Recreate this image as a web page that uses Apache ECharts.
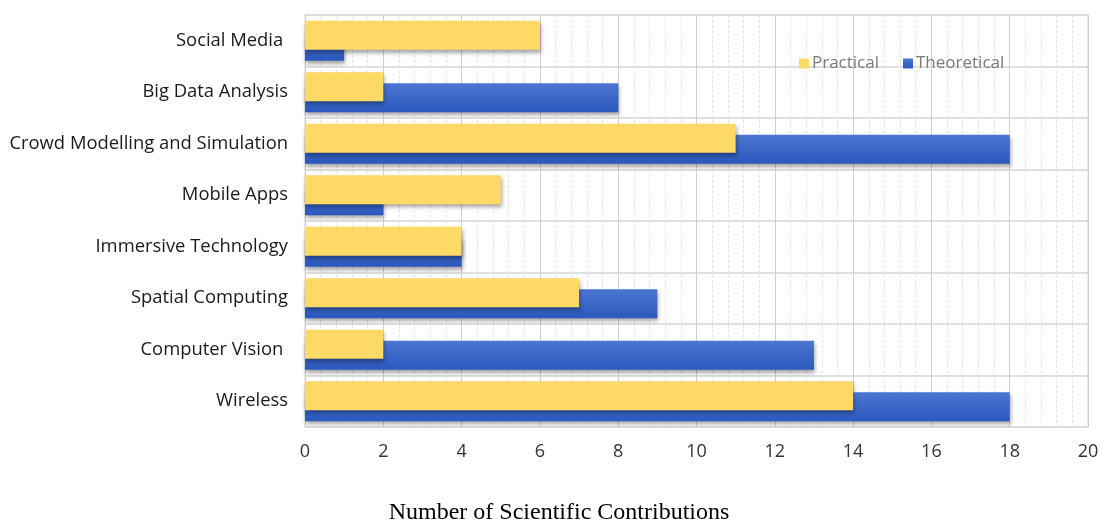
<!DOCTYPE html>
<html>
<head>
<meta charset="utf-8">
<script src="https://cdn.jsdelivr.net/npm/echarts@6/dist/echarts.min.js"></script>
<style>
  html, body { margin: 0; padding: 0; background: #fff; }
  #chart { width: 1104px; height: 521px; }
</style>
</head>
<body>
<div id="chart"></div>
<script>
// Research areas, listed top to bottom
const categories = [
  'Social Media ',
  'Big Data Analysis',
  'Crowd Modelling and Simulation',
  'Mobile Apps',
  'Immersive Technology',
  'Spatial Computing',
  'Computer Vision ',
  'Wireless'
];
const practical = [6, 2, 11, 5, 4, 7, 2, 14];
const theoretical = [1, 8, 18, 2, 4, 9, 13, 18];
const xTicks = [0, 2, 4, 6, 8, 10, 12, 14, 16, 18, 20];

const barShadow = {
  shadowColor: 'rgba(0,0,0,0.35)',
  shadowBlur: 4,
  shadowOffsetX: 1,
  shadowOffsetY: 3
};

const chart = echarts.init(document.getElementById('chart'));
chart.setOption({
  animation: false,
  backgroundColor: '#fff',
  title: {
    text: 'Number of Scientific Contributions',
    left: 554,
    top: 496,
    textAlign: 'center',
    textStyle: {
      fontFamily: 'Liberation Serif',
      fontWeight: 'normal',
      fontSize: 24,
      color: '#000'
    }
  },
  legend: {
    data: ['Practical', 'Theoretical'],
    left: 794,
    top: 50,
    itemWidth: 10,
    itemHeight: 10,
    itemGap: 24,
    icon: 'rect',
    textStyle: { fontFamily: 'Open Sans', fontSize: 17, color: '#7a7a7a', padding: [0, 0, 0, -2] }
  },
  grid: { left: 305, right: 16, top: 15, bottom: 94, containLabel: false, show: true, borderColor: '#d6d6d6', borderWidth: 1 },
  xAxis: {
    type: 'value',
    min: xTicks[0],
    max: xTicks[xTicks.length - 1],
    interval: 2,
    axisLine: { show: false },
    axisTick: { show: false },
    axisLabel: {
      margin: 16,
      fontFamily: 'Open Sans',
      fontSize: 18,
      color: '#333',
      formatter: v => xTicks.includes(v) ? String(v) : ''
    },
    splitLine: { show: true, lineStyle: { color: '#cfcfcf', width: 1 } },
    minorTick: { show: false, splitNumber: 5 },
    minorSplitLine: { show: true, lineStyle: { color: '#e4e4e4', width: 1, type: [3, 2] } }
  },
  yAxis: {
    type: 'category',
    inverse: true,
    data: categories,
    axisLine: { show: false },
    axisTick: { show: false },
    axisLabel: {
      margin: 17,
      fontFamily: 'Open Sans',
      fontSize: 18.4,
      color: '#1a1a1a'
    },
    splitLine: { show: true, lineStyle: { color: '#d6d6d6', width: 1.5 } }
  },
  series: [
    {
      name: 'Practical',
      type: 'bar',
      data: practical,
      barWidth: 29,
      barGap: '-62%',
      z: 3,
      itemStyle: Object.assign({ color: '#FFD966' }, barShadow)
    },
    {
      name: 'Theoretical',
      type: 'bar',
      data: theoretical,
      barWidth: 29,
      z: 2,
      itemStyle: Object.assign({
        color: new echarts.graphic.LinearGradient(0, 0, 0, 1, [
          { offset: 0, color: '#4B76D1' },
          { offset: 1, color: '#2B58BE' }
        ])
      }, barShadow)
    }
  ]
});
</script>
</body>
</html>
